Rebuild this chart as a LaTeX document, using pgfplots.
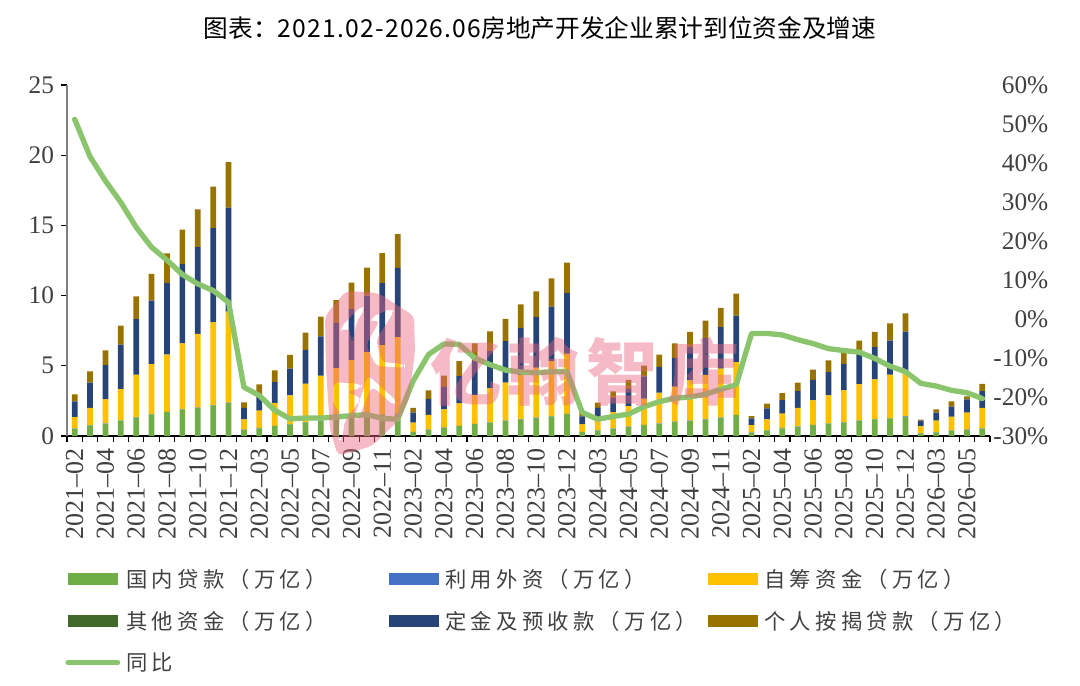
\documentclass[border=0pt]{standalone}
\usepackage{fontspec}
\usepackage{pgfplots}
\usepackage{pgfplotstable}
\pgfplotsset{compat=1.18}
\setmainfont{Liberation Serif}
\newfontfamily\cjk{Noto Sans CJK SC}
\newfontfamily\cjkleg[LetterSpace=20]{Noto Sans CJK SC}
\newfontfamily\cjktitle[LetterSpace=5]{Noto Sans CJK SC}

\definecolor{cLoan}{HTML}{70AD47}
\definecolor{cForeign}{HTML}{4472C4}
\definecolor{cSelf}{HTML}{FFC000}
\definecolor{cOther}{HTML}{43682B}
\definecolor{cDeposit}{HTML}{264478}
\definecolor{cMortgage}{HTML}{997300}
\definecolor{cYoy}{HTML}{8AC46C}
\definecolor{cText}{HTML}{404040}
\definecolor{cMark}{HTML}{E8677F}

% idx loan foreign self other deposit mortgage yoy
\pgfplotstableread{
idx loan foreign self other deposit mortgage yoy
0 0.52 0.02 0.81 0.01 1.10 0.50 51.2
1 0.76 0.02 1.22 0.01 1.79 0.80 41.6
2 0.88 0.02 1.70 0.01 2.44 1.05 35.4
3 1.10 0.02 2.22 0.01 3.15 1.37 29.9
4 1.33 0.02 3.01 0.01 3.95 1.63 23.5
5 1.54 0.02 3.56 0.01 4.51 1.90 18.4
6 1.70 0.02 4.08 0.01 5.07 2.12 15.1
7 1.90 0.02 4.68 0.01 5.64 2.45 11.4
8 2.00 0.02 5.25 0.01 6.18 2.68 9.0
9 2.18 0.02 5.90 0.01 6.69 2.97 7.3
10 2.35 0.02 6.49 0.01 7.39 3.24 4.3
11 0.43 0.02 0.73 0.01 0.81 0.40 -17.5
12 0.55 0.02 1.23 0.01 1.09 0.77 -19.6
13 0.70 0.02 1.63 0.01 1.48 0.83 -23.4
14 0.83 0.02 2.05 0.01 1.89 0.98 -25.6
15 0.97 0.02 2.73 0.01 2.41 1.23 -25.4
16 1.10 0.02 3.17 0.01 2.80 1.40 -25.4
17 1.20 0.02 3.61 0.01 3.22 1.61 -25.1
18 1.30 0.02 4.08 0.01 3.62 1.89 -24.8
19 1.40 0.02 4.55 0.01 4.02 2.00 -24.5
20 1.50 0.02 4.95 0.01 4.40 2.15 -25.5
21 1.55 0.02 5.47 0.01 4.92 2.41 -25.7
22 0.28 0.02 0.65 0.01 0.70 0.34 -15.9
23 0.43 0.02 1.05 0.01 1.14 0.60 -9.1
24 0.57 0.02 1.31 0.01 1.59 0.80 -6.4
25 0.71 0.02 1.59 0.01 1.94 1.06 -6.5
26 0.85 0.02 2.03 0.01 2.42 1.27 -10.0
27 0.95 0.02 2.43 0.01 2.63 1.42 -11.7
28 1.07 0.02 2.71 0.01 2.94 1.59 -13.1
29 1.18 0.02 3.14 0.01 3.35 1.68 -13.6
30 1.28 0.02 3.56 0.01 3.59 1.84 -13.8
31 1.40 0.02 3.91 0.01 3.88 2.01 -13.5
32 1.56 0.02 4.27 0.01 4.31 2.18 -13.5
33 0.28 0.02 0.53 0.01 0.56 0.30 -24.0
34 0.40 0.02 0.65 0.01 0.92 0.37 -25.7
35 0.52 0.02 1.16 0.01 1.01 0.46 -25.0
36 0.64 0.02 1.47 0.01 1.22 0.64 -24.4
37 0.78 0.02 1.85 0.01 1.58 0.78 -22.5
38 0.88 0.02 2.18 0.01 1.84 0.87 -21.2
39 1.00 0.02 2.48 0.01 2.06 1.03 -20.3
40 1.07 0.02 2.87 0.01 2.36 1.09 -20.0
41 1.18 0.02 3.14 0.01 2.62 1.25 -19.3
42 1.28 0.02 3.49 0.01 2.95 1.37 -18.0
43 1.49 0.02 3.75 0.01 3.31 1.56 -16.9
44 0.24 0.02 0.52 0.01 0.47 0.16 -3.7
45 0.40 0.02 0.76 0.01 0.78 0.33 -3.7
46 0.55 0.02 1.02 0.01 0.96 0.50 -4.1
47 0.66 0.02 1.32 0.01 1.19 0.60 -5.3
48 0.78 0.02 1.74 0.01 1.45 0.72 -6.3
49 0.88 0.02 2.00 0.01 1.64 0.83 -7.6
50 0.97 0.02 2.26 0.01 1.86 0.85 -8.1
51 1.09 0.02 2.59 0.01 2.05 1.04 -8.5
52 1.18 0.02 2.83 0.01 2.29 1.09 -10.1
53 1.26 0.02 3.08 0.01 2.43 1.23 -12.1
54 1.37 0.02 3.16 0.01 2.88 1.30 -13.5
55 0.19 0.02 0.48 0.01 0.39 0.07 -16.5
56 0.26 0.02 0.81 0.01 0.56 0.24 -17.2
57 0.36 0.02 0.99 0.01 0.72 0.36 -18.3
58 0.43 0.02 1.21 0.01 0.93 0.22 -18.9
59 0.52 0.02 1.46 0.01 1.19 0.52 -20.4
}\datatable

\newcommand{\legtxt}[1]{\makebox[197.25pt][l]{\cjkleg #1}}

\begin{document}
\begin{tikzpicture}
\useasboundingbox (0,0) rectangle (810pt,513.75pt);
\node[text=black,font=\cjk\fontsize{18.5pt}{22pt}\selectfont,inner sep=0pt] at (405pt,492.5pt)
  {图表：{\cjktitle 2021.02-2026.06}房地产开发企业累计到位资金及增速};

\begin{axis}[
  at={(50.25pt,186.75pt)}, anchor=south west,
  scale only axis, width=692.25pt, height=263.25pt,
  ybar stacked, bar width=4.3pt,
  xmin=-0.5, xmax=59.5, ymin=0, ymax=25,
  axis x line*=bottom, axis y line*=left,
  axis line style={-},
  x axis line style={black,thick},
  y axis line style={gray,thick},
  tick align=outside,
  major tick length=4.5pt, minor tick length=4.5pt,
  tick style={black,thick},
  major x tick style={draw=none},
  minor x tick style={black,thick},
  xtick={0,2,...,58},
  minor xtick={-0.5,0.5,...,59.5},
  xticklabels={2021--02,2021--04,2021--06,2021--08,2021--10,2021--12,2022--03,2022--05,2022--07,2022--09,2022--11,2023--02,2023--04,2023--06,2023--08,2023--10,2023--12,2024--03,2024--05,2024--07,2024--09,2024--11,2025--02,2025--04,2025--06,2025--08,2025--10,2025--12,2026--03,2026--05},
  xticklabel style={rotate=90,anchor=east,inner sep=0pt,xshift=-5pt,font=\fontsize{19.5pt}{20pt}\selectfont,text=cText},
  ytick={0,5,...,25},
  yticklabel style={anchor=east,inner sep=0pt,xshift=-5pt,font=\fontsize{19pt}{20pt}\selectfont,text=cText},
  /pgf/number format/assume math mode=true,
  legend image code/.code={\fill[#1] (0pt,-4.5pt) rectangle (37.5pt,4.5pt);},
  legend cell align=left,
  legend columns=3,
  legend style={
    at={(-0.002,-0.379)}, anchor=north west, draw=none, fill=none, inner sep=0pt,
    font=\fontsize{16pt}{18pt}\selectfont, text=cText,
    row sep=16pt,
    nodes={inner sep=0pt},
    /tikz/every odd column/.append style={column sep=4.5pt},
  },
]
\addplot[draw=none,fill=cLoan] table[x=idx,y=loan] {\datatable};
\addplot[draw=none,fill=cForeign] table[x=idx,y=foreign] {\datatable};
\addplot[draw=none,fill=cSelf] table[x=idx,y=self] {\datatable};
\addplot[draw=none,fill=cOther] table[x=idx,y=other] {\datatable};
\addplot[draw=none,fill=cDeposit] table[x=idx,y=deposit] {\datatable};
\addplot[draw=none,fill=cMortgage] table[x=idx,y=mortgage] {\datatable};
\addlegendentry{\legtxt{国内贷款（万亿）}}
\addlegendentry{\legtxt{利用外资（万亿）}}
\addlegendentry{\legtxt{自筹资金（万亿）}}
\addlegendentry{\legtxt{其他资金（万亿）}}
\addlegendentry{\legtxt{定金及预收款（万亿）}}
\addlegendentry{\legtxt{个人按揭贷款（万亿）}}
\addlegendimage{legend image code/.code={\draw[cYoy,line width=3.6pt,line cap=round] (0pt,0pt) -- (37.5pt,0pt);}}
\addlegendentry{\legtxt{同比}}
\end{axis}

\begin{axis}[
  at={(50.25pt,186.75pt)}, anchor=south west,
  scale only axis, width=692.25pt, height=263.25pt,
  xmin=-0.5, xmax=59.5, ymin=-30, ymax=60,
  axis x line=none,
  axis y line*=right,
  y axis line style={draw=none},
  major tick length=0pt,
  ytick={-30,-20,...,60},
  yticklabels={-30\%,-20\%,-10\%,0\%,10\%,20\%,30\%,40\%,50\%,60\%},
  yticklabel style={anchor=west,inner sep=0pt,text width=42pt,align=right,xshift=1.5pt,font=\fontsize{19pt}{20pt}\selectfont,text=cText},
]
\addplot[cYoy,line width=4pt,line join=round,line cap=round] table[x=idx,y=yoy] {\datatable};
\end{axis}

% watermark over the chart, in reference pixels
\begin{scope}[x=0.75pt,y=-0.75pt,yshift=513.75pt,opacity=0.45]
  \fill[cMark,even odd rule,rounded corners=4pt]
    (325,316) -- (346,291) -- (378,293) -- (414,316) -- (415,352) -- (409,398) -- (399,420) -- (372,446) -- (338,456) -- (330,430) -- (326,368) -- cycle
    (340,328) -- (362,305) -- (365,309) -- (356,323) -- (354,340) -- (350,340) -- (350,328) -- (342,332) -- cycle
    (370,318) -- (392,308) -- (394,312) -- (376,340) -- (382,362) -- (405,364) -- (405,368) -- (376,366) -- (366,345) -- (380,320) -- (372,323) -- cycle
    (333,382) -- (362,384) -- (362,388) -- (346,392) -- (362,398) -- (345,420) -- (342,440) -- (338,440) -- (340,412) -- (333,405) -- cycle
    (368,375) -- (398,402) -- (394,406) -- (372,386) -- (358,420) -- (354,418) -- cycle;
  \foreach \cx/\ch in {466/亿,543/翰,622/智,703/库}
    \node[cMark,font=\cjk\bfseries\fontsize{54pt}{54pt}\selectfont,inner sep=0pt] at (\cx,372) {\ch};
\end{scope}
\end{tikzpicture}
\end{document}
